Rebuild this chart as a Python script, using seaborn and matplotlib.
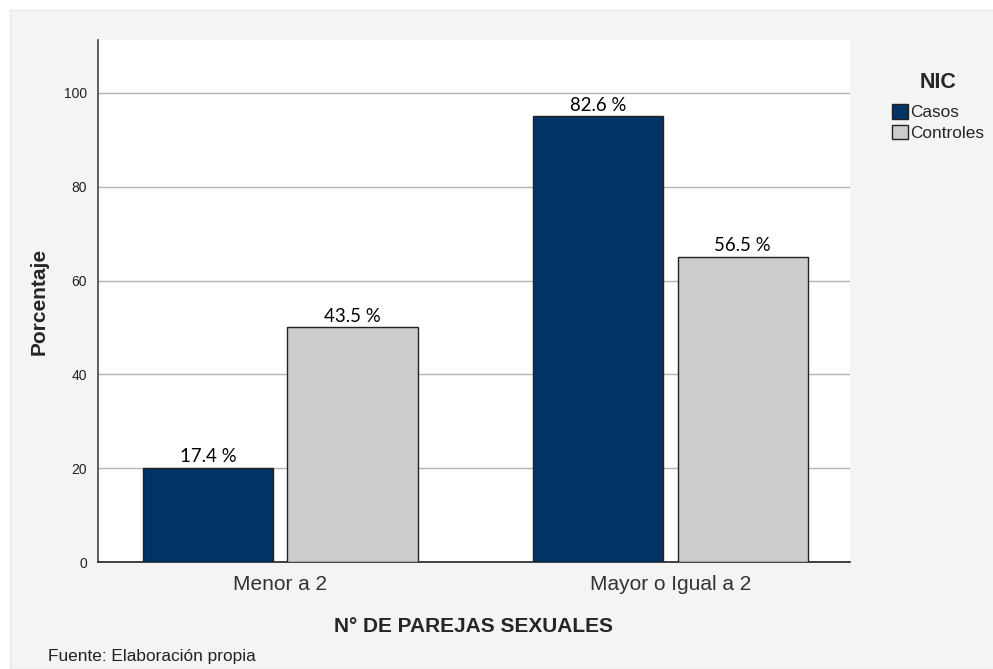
import seaborn as sns
import matplotlib.pyplot as plt
import matplotlib.patches as mpatches
import pandas as pd

# -----------------------------
# Data
# -----------------------------
categories = ["Menor a 2", "Mayor o Igual a 2"]
groups = ["Casos", "Controles"]
casos = [20, 95]
controles = [50, 65]
casos_labels = ["17.4 %", "82.6 %"]
controles_labels = ["43.5 %", "56.5 %"]
y_ticks = [0, 20, 40, 60, 80, 100]

df = pd.DataFrame({
    "grupo": categories * 2,
    "NIC": [groups[0]] * len(categories) + [groups[1]] * len(categories),
    "pct": casos + controles,
})

sns.set_style("white")
plt.rcParams["font.family"] = ["Liberation Sans", "DejaVu Sans"]

fig = plt.figure(figsize=(9.93, 6.69), dpi=100)
fig.patch.set_facecolor("white")
# light grey panel behind the chart
fig.patches.append(mpatches.Rectangle((10 / 993, 0), 1, 1 - 10 / 669, transform=fig.transFigure,
                                      facecolor="#f4f4f4", edgecolor="#e6e6e6", zorder=-5))

ax = fig.add_axes([98 / 993, 1 - 562 / 669, 752 / 993, 522 / 669])
ax.set_zorder(1)
ax.set_facecolor("white")

pal = {"Casos": "#003366", "Controles": "#cccccc"}
sns.barplot(data=df, x="grupo", y="pct", hue="NIC", order=categories, hue_order=groups,
            palette=pal, width=0.741, gap=0.1, edgecolor="#222222", linewidth=1.0,
            saturation=1, ax=ax, zorder=3)

for cont, labs in zip(ax.containers, [casos_labels, controles_labels]):
    ax.bar_label(cont, labels=labs, padding=2, fontsize=13.4, family=["Lato", "DejaVu Sans"],
                 color="black")

ax.set_ylim(0, 111.3)
ax.set_xlim(-0.467, 1.46)
ax.set_yticks(y_ticks)
ax.yaxis.grid(True, color="#b4b4b4", linewidth=1, zorder=0)
ax.set_axisbelow(True)
ax.tick_params(axis="y", labelsize=10, length=0, pad=8, labelcolor="#222222")
ax.tick_params(axis="x", labelsize=15, length=0, pad=9, labelcolor="#333333")

for side in ["top", "right"]:
    ax.spines[side].set_visible(False)
ax.spines["left"].set_color("#444444")
ax.spines["bottom"].set_color("#222222")
ax.spines["left"].set_linewidth(1.2)
ax.spines["bottom"].set_linewidth(1.2)

ax.set_ylabel("Porcentaje", fontsize=15, fontweight="bold", labelpad=11)
ax.set_xlabel("N° DE PAREJAS SEXUALES", fontsize=15, fontweight="bold", labelpad=17)

handles, labels = ax.get_legend_handles_labels()
leg = ax.legend(handles, labels, title="NIC", loc="upper left",
                bbox_to_anchor=(892 / 993, 1 - 72 / 669), bbox_transform=fig.transFigure,
                frameon=False, fontsize=12.4, handlelength=0.93, handleheight=0.93,
                handletextpad=0.15, labelspacing=0.26, alignment="center",
                borderpad=0, borderaxespad=0)
leg.get_title().set_fontweight("bold")
leg.get_title().set_fontsize(15.5)
# a bit more room between the title and the entries
leg._legend_box.sep = 8

fig.text(48 / 993, 1 - 656 / 669, "Fuente: Elaboración propia", fontsize=12.4, va="center",
         ha="left", color="#222222")

fig.savefig("out.png", dpi=100)
